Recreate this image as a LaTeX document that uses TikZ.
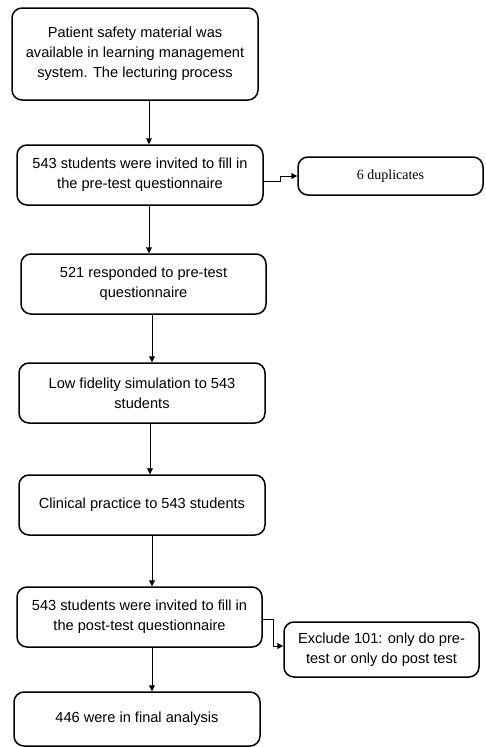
\documentclass[tikz,border=0pt]{standalone}
\usepackage{fontspec}
\setmainfont{Liberation Sans}
\newfontfamily\serifdup{Liberation Serif}
\usetikzlibrary{arrows.meta}
\tikzset{
  box/.style={draw=black, line width=1.5pt, rounded corners=10pt, align=center,
    font=\fontsize{14.6}{20}\selectfont, inner sep=0pt},
  arr/.style={draw=black, line width=1pt, -{Triangle[length=6pt,width=6pt]}}
}
\begin{document}
\begin{tikzpicture}[x=1pt,y=-1pt]
\useasboundingbox (0,0) rectangle (485,747);
\node[box, minimum width=246pt, minimum height=92pt] (top) at (135,54)
  {Patient safety material was\\available in learning management\\system. The lecturing process};
\node[box, minimum width=246pt, minimum height=60pt] (b2) at (140,175)
  {543 students were invited to fill in\\the pre-test questionnaire};
\node[box, minimum width=185pt, minimum height=38pt, font=\serifdup\fontsize{14}{17}\selectfont] (dup) at (390.5,176)
  {6 duplicates};
\node[box, minimum width=245pt, minimum height=60pt] (b3) at (143.5,284)
  {521 responded to pre-test\\questionnaire};
\node[box, minimum width=246pt, minimum height=60pt] (b4) at (142,393)
  {Low fidelity simulation to 543\\students};
\node[box, minimum width=246pt, minimum height=60pt] (b5) at (142,505)
  {Clinical practice to 543 students};
\node[box, minimum width=245pt, minimum height=60pt] (b6) at (139.5,617)
  {543 students were invited to fill in\\the post-test questionnaire};
\node[box, minimum width=195pt, minimum height=55pt] (ex) at (381.5,649.5)
  {Exclude 101: only do pre-\\test or only do post test};
\node[box, minimum width=246pt, minimum height=54pt] (fin) at (137,719)
  {446 were in final analysis};

\draw[arr] ([xshift=14pt]top.south) -- ([xshift=14pt]top.south |- b2.north);
\draw[arr] ([xshift=9pt]b2.south) -- ([xshift=9pt]b2.south |- b3.north);
\draw[arr] ([xshift=8.5pt]b3.south) -- ([xshift=8.5pt]b3.south |- b4.north);
\draw[arr] ([xshift=8pt]b4.south) -- ([xshift=8pt]b4.south |- b5.north);
\draw[arr] ([xshift=10pt]b5.south) -- ([xshift=10pt]b5.south |- b6.north);
\draw[arr] ([xshift=12.5pt]b6.south) -- ([xshift=12.5pt]b6.south |- fin.north);

\draw[arr] ([yshift=-6pt]b2.east) -- ++(17,0) |- (dup.west);
\draw[arr] ([yshift=-2pt]b6.east) -- ++(11,0) |- ([yshift=3.5pt]ex.west);
\end{tikzpicture}
\end{document}
